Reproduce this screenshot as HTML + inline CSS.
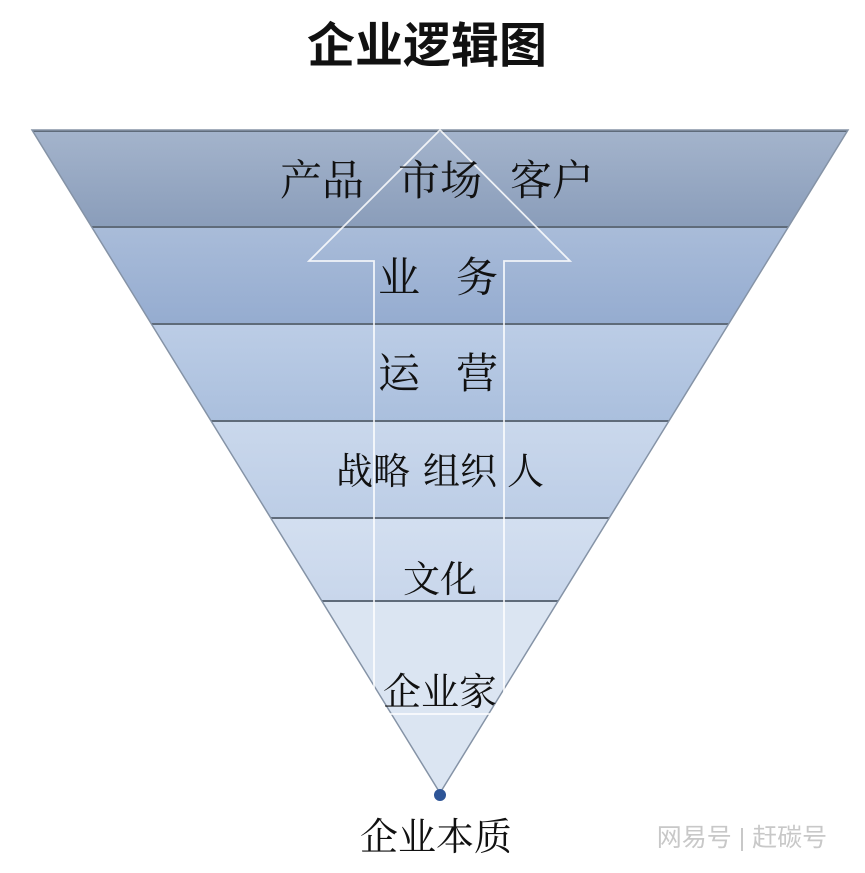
<!DOCTYPE html>
<html><head><meta charset="utf-8"><style>
html,body{margin:0;padding:0;background:#fff;}
svg{display:block}
text{font-family:"Liberation Serif","Noto Serif CJK SC",serif;fill:#111;}
</style></head><body>
<svg width="865" height="873" viewBox="0 0 865 873" xmlns="http://www.w3.org/2000/svg">
<defs>
<clipPath id="tri"><polygon points="32,130 848,130 440,793"/></clipPath>
<linearGradient id="g1" x1="0" y1="0" x2="0" y2="1"><stop offset="0" stop-color="#a4b4cc"/><stop offset="1" stop-color="#8a9dba"/></linearGradient>
<linearGradient id="g2" x1="0" y1="0" x2="0" y2="1"><stop offset="0" stop-color="#a9bcd9"/><stop offset="1" stop-color="#95acd0"/></linearGradient>
<linearGradient id="g3" x1="0" y1="0" x2="0" y2="1"><stop offset="0" stop-color="#bccde6"/><stop offset="1" stop-color="#aabfdd"/></linearGradient>
<linearGradient id="g4" x1="0" y1="0" x2="0" y2="1"><stop offset="0" stop-color="#cad8ec"/><stop offset="1" stop-color="#bccde6"/></linearGradient>
<linearGradient id="g5" x1="0" y1="0" x2="0" y2="1"><stop offset="0" stop-color="#d3dff0"/><stop offset="1" stop-color="#c8d6eb"/></linearGradient>
</defs>
<text x="427" y="62" text-anchor="middle" font-size="48" font-weight="bold" style="font-family:'Liberation Sans','Noto Sans CJK SC',sans-serif">企业逻辑图</text>
<g clip-path="url(#tri)">
<rect x="0" y="130" width="865" height="97" fill="url(#g1)"/>
<rect x="0" y="227" width="865" height="97" fill="url(#g2)"/>
<rect x="0" y="324" width="865" height="97" fill="url(#g3)"/>
<rect x="0" y="421" width="865" height="97" fill="url(#g4)"/>
<rect x="0" y="518" width="865" height="83" fill="url(#g5)"/>
<rect x="0" y="601" width="865" height="200" fill="#dbe5f2"/>
<g stroke="#5f6b7a" stroke-width="2">
<line x1="0" y1="131" x2="865" y2="131"/>
<line x1="0" y1="227" x2="865" y2="227"/>
<line x1="0" y1="324" x2="865" y2="324"/>
<line x1="0" y1="421" x2="865" y2="421"/>
<line x1="0" y1="518" x2="865" y2="518"/>
<line x1="0" y1="601" x2="865" y2="601"/>
</g>
</g>
<polygon points="32,130 848,130 440,793" fill="none" stroke="#8593a6" stroke-width="1.5"/>
<polygon points="440,130 570,261 504,261 504,714 374,714 374,261 309,261" fill="none" stroke="#ffffff" stroke-opacity="0.85" stroke-width="1.8"/>
<g font-size="42">
<text x="280" y="195">产品</text>
<text x="398" y="195">市场</text>
<text x="510" y="195">客户</text>
<text x="378" y="292">业</text>
<text x="456" y="292">务</text>
<text x="378" y="388">运</text>
<text x="456" y="388">营</text>
</g>
<g font-size="37">
<text x="336" y="484">战略</text>
<text x="423" y="484">组织</text>
<text x="507" y="484">人</text>
<text x="403" y="592">文化</text>
</g>
<g font-size="38">
<text x="383" y="705">企业家</text>
<text x="360" y="850">企业本质</text>
</g>
<circle cx="440" cy="795" r="6" fill="#2e5597"/>
<text x="742" y="846" text-anchor="middle" font-size="25" style="fill:#c8c8c8;font-family:'Liberation Sans','Noto Sans CJK SC',sans-serif">网易号 | 赶碳号</text>
</svg>
</body></html>
